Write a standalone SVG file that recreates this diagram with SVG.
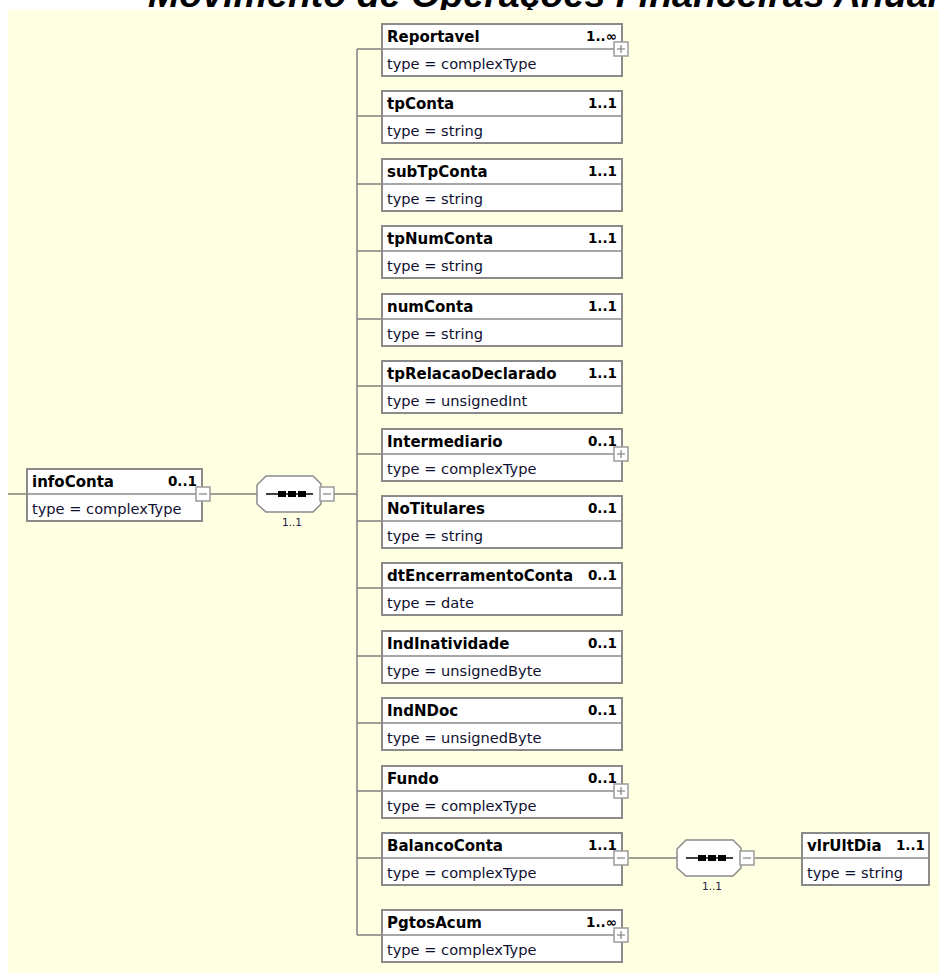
<svg xmlns="http://www.w3.org/2000/svg" width="939" height="974" viewBox="0 0 939 974">
<style>
.box{fill:#fff;stroke:#8a8a8a;stroke-width:2}
.div{stroke:#8a8a8a;stroke-width:1.5}
.ln{stroke:#7f7f7f;stroke-width:1.5;fill:none}
.nm{font-family:"DejaVu Sans",Verdana,sans-serif;font-size:15px;font-weight:bold;fill:#000}
.oc{font-family:"DejaVu Sans",Verdana,sans-serif;font-size:13.5px;font-weight:bold;fill:#000;text-anchor:end}
.ty{font-family:"DejaVu Sans",Verdana,sans-serif;font-size:14.6px;fill:#101030}
.btn{fill:#fff;stroke:#9a9a9a;stroke-width:1.5}
.bl{stroke:#8a8a8a;stroke-width:1.3}
.comp{fill:#fff;stroke:#8a8a8a;stroke-width:1.5}
.cl{font-family:"DejaVu Sans",Verdana,sans-serif;font-size:10.5px;fill:#202040;text-anchor:middle}
</style>
<defs>
<g id="plus"><rect class="btn" x="0" y="0" width="14" height="14"/><line class="bl" x1="3" y1="7" x2="11" y2="7"/><line class="bl" x1="7" y1="3" x2="7" y2="11"/></g>
<g id="minus"><rect class="btn" x="0" y="0" width="14" height="14"/><line class="bl" x1="3" y1="7" x2="11" y2="7"/></g>
<g id="seq">
<polygon class="comp" points="9,0 56,0 64,8 64,28 56,36 9,36 0,28 0,9"/>
<line x1="9" y1="18" x2="56" y2="18" stroke="#000" stroke-width="1.5"/>
<rect x="21" y="15" width="8" height="6" fill="#000"/>
<rect x="31" y="15" width="8" height="6" fill="#000"/>
<rect x="41" y="15" width="8" height="6" fill="#000"/>
</g>
</defs>
<text x="148" y="7" font-family="Liberation Sans,Arial,sans-serif" font-size="37.6" font-weight="bold" font-style="italic" fill="#000">Movimento de Operações Financeiras Anual</text>
<rect x="8" y="10" width="931" height="963" fill="#FFFFE1"/>
<g id="connectors">
<line class="ln" x1="8" y1="494" x2="27" y2="494"/>
<line class="ln" x1="210" y1="494" x2="257" y2="494"/>
<line class="ln" x1="334" y1="494" x2="357" y2="494"/>
<line class="ln" x1="357" y1="49" x2="357" y2="935"/>
<line class="ln" x1="357" y1="49" x2="382" y2="49"/>
<line class="ln" x1="357" y1="116" x2="382" y2="116"/>
<line class="ln" x1="357" y1="184" x2="382" y2="184"/>
<line class="ln" x1="357" y1="251" x2="382" y2="251"/>
<line class="ln" x1="357" y1="319" x2="382" y2="319"/>
<line class="ln" x1="357" y1="386" x2="382" y2="386"/>
<line class="ln" x1="357" y1="454" x2="382" y2="454"/>
<line class="ln" x1="357" y1="521" x2="382" y2="521"/>
<line class="ln" x1="357" y1="588" x2="382" y2="588"/>
<line class="ln" x1="357" y1="656" x2="382" y2="656"/>
<line class="ln" x1="357" y1="723" x2="382" y2="723"/>
<line class="ln" x1="357" y1="791" x2="382" y2="791"/>
<line class="ln" x1="357" y1="858" x2="382" y2="858"/>
<line class="ln" x1="357" y1="935" x2="382" y2="935"/>
<line class="ln" x1="629" y1="858" x2="677" y2="858"/>
<line class="ln" x1="755" y1="858" x2="802" y2="858"/>
</g>
<g id="infoConta">
<rect class="box" x="27" y="469" width="175" height="52"/>
<line class="div" x1="27" y1="494" x2="202" y2="494"/>
<text class="nm" x="32" y="487">infoConta</text>
<text class="oc" x="197" y="486">0..1</text>
<text class="ty" x="32" y="514">type = complexType</text>
<use href="#minus" x="196" y="487"/>
</g>
<g id="seq1">
<use href="#seq" x="257" y="476"/>
<use href="#minus" x="320" y="487"/>
<text class="cl" x="292" y="526">1..1</text>
</g>
<g id="Reportavel">
<rect class="box" x="382" y="24" width="240" height="52"/>
<line class="div" x1="382" y1="49" x2="622" y2="49"/>
<text class="nm" x="387" y="42">Reportavel</text>
<text class="oc" x="617" y="41">1..∞</text>
<text class="ty" x="387" y="69">type = complexType</text>
<use href="#plus" x="614" y="42"/>
</g>
<g id="tpConta">
<rect class="box" x="382" y="91" width="240" height="52"/>
<line class="div" x1="382" y1="116" x2="622" y2="116"/>
<text class="nm" x="387" y="109">tpConta</text>
<text class="oc" x="617" y="108">1..1</text>
<text class="ty" x="387" y="136">type = string</text>
</g>
<g id="subTpConta">
<rect class="box" x="382" y="159" width="240" height="52"/>
<line class="div" x1="382" y1="184" x2="622" y2="184"/>
<text class="nm" x="387" y="177">subTpConta</text>
<text class="oc" x="617" y="176">1..1</text>
<text class="ty" x="387" y="204">type = string</text>
</g>
<g id="tpNumConta">
<rect class="box" x="382" y="226" width="240" height="52"/>
<line class="div" x1="382" y1="251" x2="622" y2="251"/>
<text class="nm" x="387" y="244">tpNumConta</text>
<text class="oc" x="617" y="243">1..1</text>
<text class="ty" x="387" y="271">type = string</text>
</g>
<g id="numConta">
<rect class="box" x="382" y="294" width="240" height="52"/>
<line class="div" x1="382" y1="319" x2="622" y2="319"/>
<text class="nm" x="387" y="312">numConta</text>
<text class="oc" x="617" y="311">1..1</text>
<text class="ty" x="387" y="339">type = string</text>
</g>
<g id="tpRelacaoDeclarado">
<rect class="box" x="382" y="361" width="240" height="52"/>
<line class="div" x1="382" y1="386" x2="622" y2="386"/>
<text class="nm" x="387" y="379">tpRelacaoDeclarado</text>
<text class="oc" x="617" y="378">1..1</text>
<text class="ty" x="387" y="406">type = unsignedInt</text>
</g>
<g id="Intermediario">
<rect class="box" x="382" y="429" width="240" height="52"/>
<line class="div" x1="382" y1="454" x2="622" y2="454"/>
<text class="nm" x="387" y="447">Intermediario</text>
<text class="oc" x="617" y="446">0..1</text>
<text class="ty" x="387" y="474">type = complexType</text>
<use href="#plus" x="614" y="447"/>
</g>
<g id="NoTitulares">
<rect class="box" x="382" y="496" width="240" height="52"/>
<line class="div" x1="382" y1="521" x2="622" y2="521"/>
<text class="nm" x="387" y="514">NoTitulares</text>
<text class="oc" x="617" y="513">0..1</text>
<text class="ty" x="387" y="541">type = string</text>
</g>
<g id="dtEncerramentoConta">
<rect class="box" x="382" y="563" width="240" height="52"/>
<line class="div" x1="382" y1="588" x2="622" y2="588"/>
<text class="nm" x="387" y="581">dtEncerramentoConta</text>
<text class="oc" x="617" y="580">0..1</text>
<text class="ty" x="387" y="608">type = date</text>
</g>
<g id="IndInatividade">
<rect class="box" x="382" y="631" width="240" height="52"/>
<line class="div" x1="382" y1="656" x2="622" y2="656"/>
<text class="nm" x="387" y="649">IndInatividade</text>
<text class="oc" x="617" y="648">0..1</text>
<text class="ty" x="387" y="676">type = unsignedByte</text>
</g>
<g id="IndNDoc">
<rect class="box" x="382" y="698" width="240" height="52"/>
<line class="div" x1="382" y1="723" x2="622" y2="723"/>
<text class="nm" x="387" y="716">IndNDoc</text>
<text class="oc" x="617" y="715">0..1</text>
<text class="ty" x="387" y="743">type = unsignedByte</text>
</g>
<g id="Fundo">
<rect class="box" x="382" y="766" width="240" height="52"/>
<line class="div" x1="382" y1="791" x2="622" y2="791"/>
<text class="nm" x="387" y="784">Fundo</text>
<text class="oc" x="617" y="783">0..1</text>
<text class="ty" x="387" y="811">type = complexType</text>
<use href="#plus" x="614" y="784"/>
</g>
<g id="BalancoConta">
<rect class="box" x="382" y="833" width="240" height="52"/>
<line class="div" x1="382" y1="858" x2="622" y2="858"/>
<text class="nm" x="387" y="851">BalancoConta</text>
<text class="oc" x="617" y="850">1..1</text>
<text class="ty" x="387" y="878">type = complexType</text>
<use href="#minus" x="614" y="851"/>
</g>
<g id="seq2">
<use href="#seq" x="677" y="840"/>
<use href="#minus" x="740" y="851"/>
<text class="cl" x="712" y="890">1..1</text>
</g>
<g id="vlrUltDia">
<rect class="box" x="802" y="833" width="127" height="52"/>
<line class="div" x1="802" y1="858" x2="929" y2="858"/>
<text class="nm" x="807" y="851">vlrUltDia</text>
<text class="oc" x="925" y="850">1..1</text>
<text class="ty" x="807" y="878">type = string</text>
</g>
<g id="PgtosAcum">
<rect class="box" x="382" y="910" width="240" height="52"/>
<line class="div" x1="382" y1="935" x2="622" y2="935"/>
<text class="nm" x="387" y="928">PgtosAcum</text>
<text class="oc" x="617" y="927">1..∞</text>
<text class="ty" x="387" y="955">type = complexType</text>
<use href="#plus" x="614" y="928"/>
</g>
</svg>
